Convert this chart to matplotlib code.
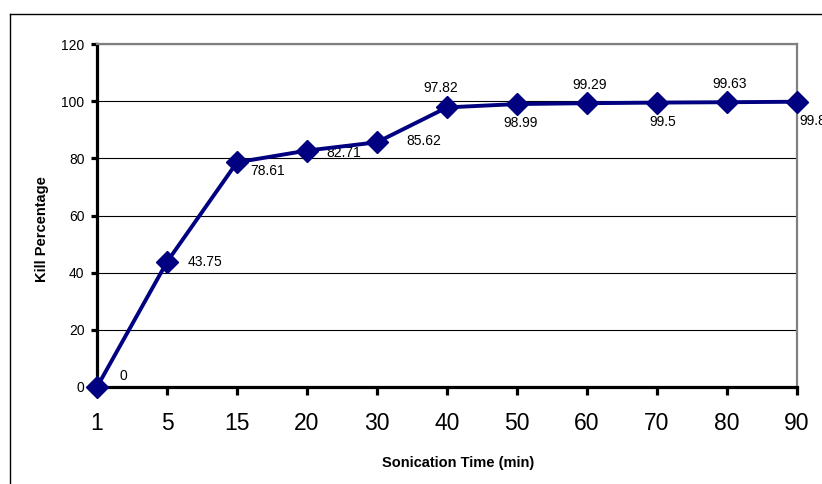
import numpy as np
import matplotlib
matplotlib.use('Agg')
import matplotlib.pyplot as plt
from matplotlib.lines import Line2D

plt.rcParams['font.family'] = ['Liberation Sans', 'DejaVu Sans']

# sonication time categories and kill percentage
times = ['1', '5', '15', '20', '30', '40', '50', '60', '70', '80', '90']
kill = [0, 43.75, 78.61, 82.71, 85.62, 97.82, 98.99, 99.29, 99.5, 99.63, 99.8]
kill_text = ['0', '43.75', '78.61', '82.71', '85.62', '97.82', '98.99', '99.29', '99.5', '99.63', '99.8']

# where each value label sits relative to its marker (pixels, up is positive)
label_offsets = [(26, 11), (38, 0), (31, -9), (37, -2), (47, 1), (-6, 19),
                 (4, -19), (3, 18), (6, -19), (3, 18), (16, -19)]

W, H = 822, 484
fig = plt.figure(figsize=(W / 100, H / 100), dpi=100)

# chart frame (top and left edges)
fig.add_artist(Line2D([10 / W, 10 / W], [0, 1 - 13.5 / H], transform=fig.transFigure, color='black', lw=1))
fig.add_artist(Line2D([10 / W, 1], [1 - 13.5 / H, 1 - 13.5 / H], transform=fig.transFigure, color='black', lw=1))

ax = fig.add_axes([97 / W, 1 - 387 / H, 700 / W, 343 / H])

x = np.arange(len(times))
ax.plot(x, kill, color='#000080', lw=2.8, marker='D', ms=11, mfc='#000080', mec='#000080',
        clip_on=False, zorder=5)

for xi, yi, txt, (dx, dy) in zip(x, kill, kill_text, label_offsets):
    ax.annotate(txt, (xi, yi), xytext=(dx, dy), textcoords='offset pixels',
                ha='center', va='center', fontsize=10, color='black', annotation_clip=False)

ax.set_xlim(0, len(times) - 1)
ax.set_ylim(0, 120)
ax.set_yticks(range(0, 121, 20))
ax.set_xticks(x)
ax.set_xticklabels(times)

ax.yaxis.grid(True, color='black', lw=0.8)
ax.set_axisbelow(True)

for side in ['top', 'right']:
    ax.spines[side].set_color('#808080')
    ax.spines[side].set_linewidth(1.6)
for side in ['left', 'bottom']:
    ax.spines[side].set_color('black')
    ax.spines[side].set_linewidth(2.3)

ax.tick_params(axis='y', direction='out', length=4, width=2.3, labelsize=10, pad=5)
ax.tick_params(axis='x', direction='out', length=6, width=2.3, labelsize=16.5, pad=12)

fig.text(42 / W, 1 - 229 / H, 'Kill Percentage', rotation=90, fontsize=10.5, fontweight='bold',
         ha='center', va='center')
fig.text(458 / W, 1 - 463 / H, 'Sonication Time (min)', fontsize=10.5, fontweight='bold',
         ha='center', va='center')

fig.savefig('out.png', dpi=100)
